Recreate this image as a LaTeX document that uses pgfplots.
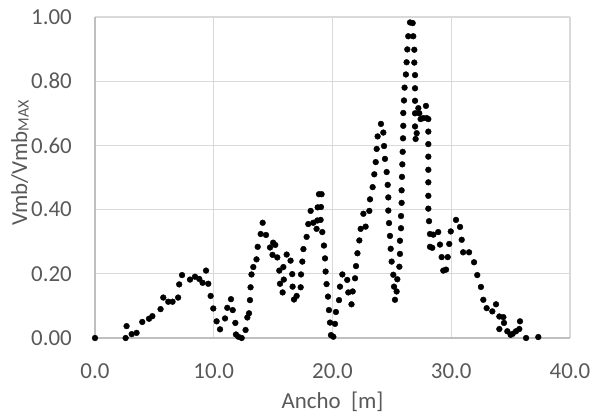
\documentclass[border=0pt]{standalone}
\usepackage{fontspec}
\setmainfont{Carlito}
\usepackage{pgfplots}
\pgfplotsset{compat=1.18}
\usetikzlibrary{calc}
\definecolor{txt}{HTML}{595959}
\definecolor{grd}{HTML}{D9D9D9}
\definecolor{axl}{HTML}{BFBFBF}
\pgfplotstableread{
x y
0 0
2.58 0
2.66 0.037
3.09 0.012
3.5 0.016
3.98 0.05
4.55 0.06
4.83 0.068
5.52 0.09
5.75 0.126
6.17 0.113
6.53 0.113
7.0 0.126
7.09 0.167
7.33 0.196
8.0 0.182
8.42 0.191
8.78 0.184
9.06 0.172
9.35 0.21
9.54 0.169
9.74 0.131
9.96 0.092
10.24 0.052
10.53 0.027
10.95 0.061
11.14 0.094
11.45 0.121
11.6 0.087
11.82 0.047
11.87 0.011
12.07 0.004
12.35 0
12.68 0.025
12.83 0.064
12.97 0.077
13.05 0.118
13.1 0.158
13.18 0.198
13.33 0.221
13.6 0.245
13.7 0.284
13.95 0.324
14.12 0.359
14.4 0.321
14.74 0.282
14.95 0.259
15.0 0.297
15.18 0.29
15.35 0.251
15.52 0.21
15.58 0.169
15.8 0.142
15.86 0.221
15.9 0.182
16.14 0.26
16.47 0.241
16.61 0.199
16.64 0.16
16.76 0.12
16.98 0.131
17.32 0.158
17.35 0.198
17.46 0.238
17.55 0.277
17.82 0.315
17.96 0.355
18.16 0.396
18.38 0.359
18.66 0.34
18.72 0.366
18.75 0.407
18.86 0.448
19.0 0.368
19.03 0.408
19.08 0.448
19.14 0.33
19.28 0.288
19.37 0.248
19.42 0.207
19.5 0.168
19.62 0.129
19.7 0.087
19.79 0.048
19.87 0.009
20.07 0.004
20.21 0.044
20.29 0.081
20.55 0.118
20.63 0.16
20.83 0.198
21.24 0.181
21.33 0.142
21.6 0.105
21.7 0.145
21.9 0.186
21.98 0.224
22.1 0.264
22.26 0.304
22.37 0.34
22.6 0.387
22.79 0.347
23.1 0.396
23.16 0.432
23.38 0.47
23.52 0.51
23.64 0.548
23.72 0.589
23.8 0.628
24.08 0.667
24.28 0.64
24.34 0.598
24.42 0.558
24.56 0.517
24.65 0.477
24.7 0.438
24.7 0.397
24.76 0.358
24.84 0.318
24.9 0.278
24.98 0.238
25.12 0.197
25.18 0.16
25.26 0.119
25.4 0.145
25.46 0.183
25.63 0.222
25.68 0.262
25.68 0.303
25.77 0.342
25.77 0.38
25.82 0.421
25.82 0.46
25.85 0.502
25.88 0.541
25.91 0.58
25.94 0.622
25.96 0.661
25.96 0.701
26.02 0.74
26.07 0.78
26.18 0.821
26.24 0.859
26.3 0.899
26.38 0.94
26.53 0.983
26.75 0.981
26.8 0.94
26.89 0.898
26.89 0.858
26.95 0.819
26.95 0.778
26.95 0.739
26.95 0.70
26.95 0.659
27.0 0.62
27.09 0.638
27.23 0.716
27.31 0.70
27.42 0.682
27.65 0.685
27.87 0.723
27.93 0.685
28.07 0.682
28.07 0.643
28.07 0.604
28.07 0.565
28.07 0.524
28.07 0.485
28.07 0.443
28.07 0.403
28.13 0.364
28.21 0.324
28.21 0.284
28.4 0.281
28.49 0.322
28.9 0.33
29.05 0.291
29.19 0.252
29.33 0.21
29.56 0.213
29.7 0.252
29.83 0.293
29.96 0.332
30.4 0.368
30.74 0.346
30.88 0.306
31.0 0.267
31.5 0.267
31.92 0.236
32.19 0.196
32.5 0.159
32.7 0.119
32.98 0.093
33.46 0.083
33.77 0.105
34.05 0.067
34.39 0.065
34.05 0.028
34.44 0.047
34.72 0.021
35.0 0.01
35.17 0.013
35.45 0.021
35.73 0.028
35.79 0.052
36.3 0
37.33 0.003
}\datatable
\begin{document}
\begin{tikzpicture}
\begin{axis}[
  scale only axis, width=475bp, height=321bp,
  xmin=0, xmax=40, ymin=0, ymax=1,
  xtick={0,10,20,30,40}, ytick={0,0.2,0.4,0.6,0.8,1.0},
  axis lines*=left,
  axis line style={color=axl, line width=1.3bp},
  grid=major, grid style={color=grd, line width=1.3bp},
  major tick length=0pt,
  ticklabel style={font=\fontsize{23}{27}\selectfont, text=txt, inner sep=0pt},
  /pgf/number format/assume math mode=true,
  xticklabel style={anchor=north, yshift=-25bp, /pgf/number format/.cd, fixed, fixed zerofill, precision=1},
  yticklabel style={anchor=east, xshift=-23bp, /pgf/number format/.cd, fixed, fixed zerofill, precision=2},
  xlabel={Ancho\ \ [m]},
  xlabel style={font=\fontsize{23}{27}\selectfont, text=txt, at={(axis description cs:0.5,-0.2)}, anchor=center, inner sep=0pt},
  ylabel={Vmb/Vmb{\fontsize{16}{18}\selectfont\raisebox{-1.5bp}{MAX}}},
  ylabel style={font=\fontsize{23}{27}\selectfont, text=txt, at={(axis description cs:-0.158,0.545)}, anchor=center, rotate=0, inner sep=0pt},
  clip=false,
]
\addplot[only marks, mark=*, mark size=2.9bp, mark options={fill=black, draw=black}] table[x=x,y=y] {\datatable};
\end{axis}
\pgfresetboundingbox
\path ($(current axis.south west)+(-95bp,-78bp)$) rectangle ($(current axis.north east)+(25bp,17bp)$);
\end{tikzpicture}
\end{document}
